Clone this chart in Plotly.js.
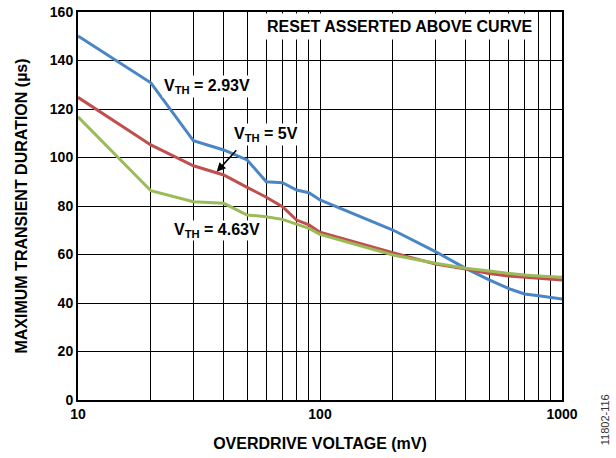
<!DOCTYPE html>
<html>
<head>
<meta charset="utf-8">
<script src="https://cdn.plot.ly/plotly-3.0.1.min.js"></script>
<style>html,body{margin:0;padding:0;background:#fff;}#chart{width:616px;height:458px;}</style>
</head>
<body>
<div id="chart"></div>
<script>
var overdriveMv = [10, 20, 30, 40, 50, 60, 70, 80, 90, 100, 200, 300, 400, 500, 600, 700, 800, 1000];
var vth293 = [150.1, 130.8, 106.9, 103.1, 99.0, 90.0, 89.6, 86.6, 85.5, 82.5, 70.1, 61.2, 54.3, 49.5, 46.0, 43.7, 43.0, 41.6];
var vth5   = [124.8, 105.2, 96.6, 92.8, 87.7, 83.6, 79.7, 74.2, 72.2, 69.2, 60.7, 56.1, 54.0, 52.2, 51.1, 50.6, 50.2, 49.5];
var vth463 = [116.8, 86.3, 81.8, 81.1, 76.3, 75.6, 74.5, 72.6, 70.8, 68.3, 59.8, 56.4, 54.3, 53.2, 52.2, 51.5, 51.1, 50.6];
var xTickVals = [10,20,30,40,50,60,70,80,90,100,200,300,400,500,600,700,800,900,1000];
var xTickText = ['10','','','','','','','','','100','','','','','','','','','1000'];
var yTickVals = [0,20,40,60,80,100,120,140,160];

var FONT = 'Liberation Sans, Arial, sans-serif';
var traces = [
  {x: overdriveMv, y: vth293, mode:'lines', line:{color:'#4a86c6', width:3}, name:'VTH = 2.93V'},
  {x: overdriveMv, y: vth5, mode:'lines', line:{color:'#c0504d', width:3}, name:'VTH = 5V'},
  {x: overdriveMv, y: vth463, mode:'lines', line:{color:'#9bbb59', width:3}, name:'VTH = 4.63V'}
];
function label(x, y, text, pad) {
  return {xref:'paper', yref:'paper', x:x, y:y, xanchor:'center', yanchor:'middle', text:text,
          showarrow:false, bgcolor:'#fff', borderpad:pad, font:{family:FONT, size:16, color:'#000'}};
}
var layout = {
  width:616, height:458,
  margin:{l:78, r:54, t:12, b:58},
  paper_bgcolor:'#fff', plot_bgcolor:'#fff',
  showlegend:false,
  font:{family:FONT, size:14, color:'#000'},
  xaxis:{
    type:'log', range:[1,3],
    tickvals:xTickVals, ticktext:xTickText,
    showgrid:true, gridcolor:'#000', gridwidth:1,
    showline:true, linecolor:'#000', linewidth:2, mirror:true,
    ticks:'', zeroline:false,
    tickfont:{family:FONT, size:14, color:'#000', weight:'bold'},
    title:{text:'<b>OVERDRIVE VOLTAGE (mV)</b>', font:{family:FONT, size:16, color:'#000'}, standoff:17}
  },
  yaxis:{
    range:[0,160], tickvals:yTickVals,
    showgrid:true, gridcolor:'#000', gridwidth:1,
    showline:true, linecolor:'#000', linewidth:2, mirror:true,
    ticks:'', zeroline:false,
    tickfont:{family:FONT, size:14, color:'#000', weight:'bold'},
    title:{text:'<b>MAXIMUM TRANSIENT DURATION (µs)</b>', font:{family:FONT, size:16, color:'#000'}, standoff:18}
  },
  annotations:[
    label(0.665, 0.962, '<b>RESET ASSERTED ABOVE CURVE</b>', 4),
    label(0.2665, 0.807, '<b>V<sub>TH</sub> = 2.93V</b>', 1),
    label(0.388, 0.683, '<b>V<sub>TH</sub> = 5V</b>', 1),
    label(0.287, 0.438, '<b>V<sub>TH</sub> = 4.63V</b>', 0),
    {xref:'paper', yref:'paper', x:0.2866, y:0.588, text:'', showarrow:true, arrowhead:2, arrowsize:1.2, arrowwidth:1.5, arrowcolor:'#000', ax:21, ay:-23},
    {xref:'paper', yref:'paper', x:1.089, y:-0.052, xanchor:'center', yanchor:'middle', text:'11802-116', textangle:-90, showarrow:false, font:{family:FONT, size:11, color:'#333'}}
  ]
};
Plotly.newPlot('chart', traces, layout, {displayModeBar:false, staticPlot:true});
</script>
</body>
</html>
